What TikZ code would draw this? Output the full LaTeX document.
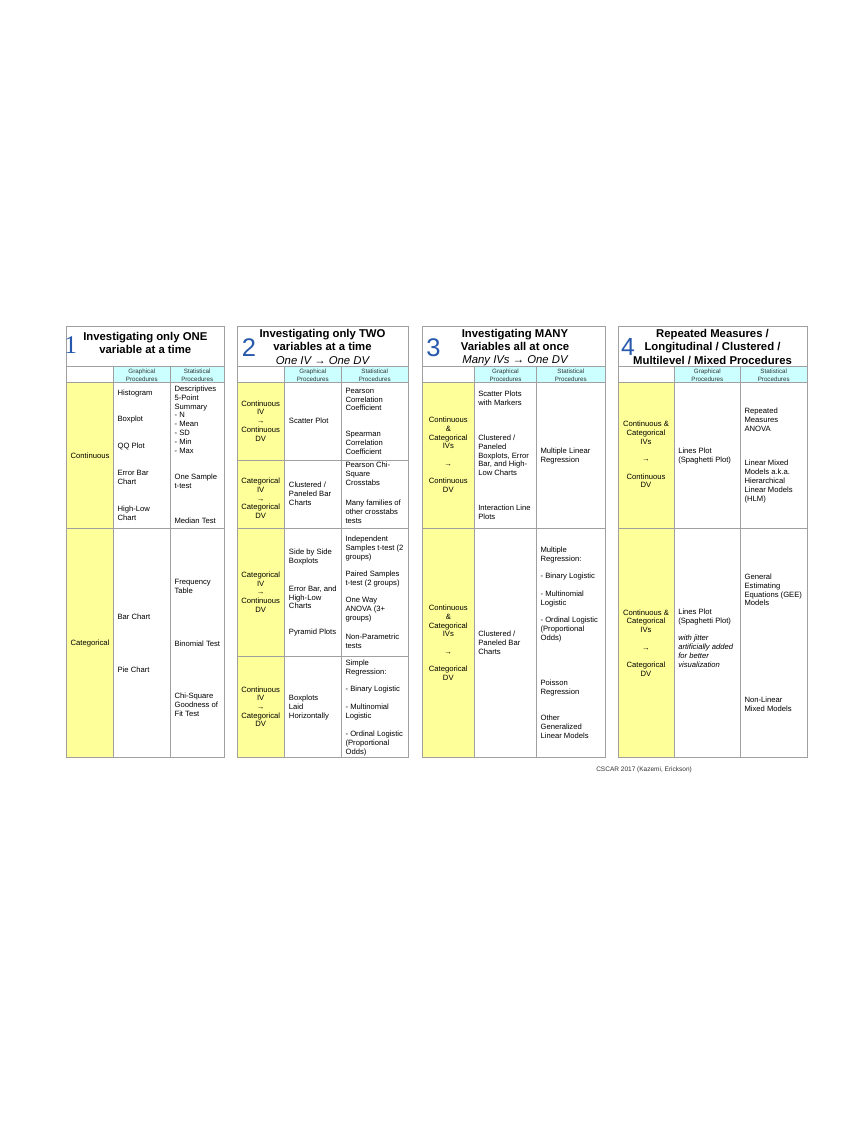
\documentclass[tikz,border=0pt]{standalone}
\usepackage{fontspec}
\setmainfont{Liberation Sans}
\newfontfamily\serifnum{Liberation Serif}
\newfontfamily\sansnum{Liberation Sans}
\newcommand{\myarr}{{\bfseries →}}
\definecolor{yel}{HTML}{FFFF99}
\definecolor{cya}{HTML}{CCFFFF}
\definecolor{numblue}{RGB}{38,88,172}
\definecolor{gridc}{HTML}{A0A0A0}
\tikzset{
  grid/.style={draw=gridc, line width=0.7pt},
  body/.style={font=\fontsize{5.4}{6.3}\selectfont, inner sep=0pt, align=left, anchor=west},
  bodyc/.style={font=\fontsize{5.4}{6.15}\selectfont, inner sep=0pt, align=center},
  hdr/.style={font=\fontsize{4.4}{5.9}\selectfont, inner sep=0pt, align=center, text=black!80},
  ttl/.style={font=\bfseries\fontsize{8}{9.4}\selectfont, inner sep=0pt, align=center},
  digit/.style={font=\fontsize{18}{18}\selectfont\sansnum, text=numblue, inner sep=0pt},
  foot/.style={font=\fontsize{4.6}{5.5}\selectfont, inner sep=0pt, anchor=west, text=black!80},
}
\newcommand{\mypanel}[4]{%
  \fill[yel] (#1,382) rectangle (#2,757.7);
  \fill[cya] (#2,366.7) rectangle (#4,382);
  \draw[grid] (#1,326) rectangle (#4,757.7);
  \draw[grid] (#1,366.7) -- (#4,366.7);
  \draw[grid] (#1,382) -- (#4,382);
  \draw[grid] (#2,366.7) -- (#2,757.7);
  \draw[grid] (#3,366.7) -- (#3,757.7);
  \draw[grid] (#1,528) -- (#4,528);
}
\begin{document}
\begin{tikzpicture}[x=0.70588pt,y=-0.70588pt]
\useasboundingbox (0,0) rectangle (867,1122);
\fill[white] (0,0) rectangle (867,1122);

% ---------- Panel 1 ----------
\mypanel{66.7}{113.3}{170.3}{224}
\node[ttl] (p1t) at (145.3,343) {Investigating only ONE\\variable at a time};
\node[digit, font=\fontsize{18}{18}\selectfont\serifnum] (p1n) at (70.7,344.7) {1};
\node[hdr] (p1g) at (141.8,375) {Graphical\\Procedures};
\node[hdr] (p1s) at (197.2,375) {Statistical\\Procedures};
\node[bodyc] (p1a) at (90,455.7) {Continuous};
\node[bodyc] (p1b) at (90,643.3) {Categorical};
\node[body] (p1c1) at (117.3,393.3) {Histogram};
\node[body] (p1c2) at (117.3,419.3) {Boxplot};
\node[body] (p1c3) at (117.3,446.7) {QQ Plot};
\node[body] (p1c4) at (117.3,477.7) {Error Bar\\Chart};
\node[body] (p1c5) at (117.3,513) {High-Low\\Chart};
\node[body] (p1d1) at (174.3,419.7) {Descriptives\\5-Point\\Summary\\- N\\- Mean\\- SD\\- Min\\- Max};
\node[body] (p1d2) at (174.3,481.3) {One Sample\\t-test};
\node[body] (p1d3) at (174.3,521) {Median Test};
\node[body] (p1e1) at (117.3,616.7) {Bar Chart};
\node[body] (p1e2) at (117.3,670) {Pie Chart};
\node[body] (p1f1) at (174.3,586.2) {Frequency\\Table};
\node[body] (p1f2) at (174.3,643.3) {Binomial Test};
\node[body] (p1f3) at (174.3,705) {Chi-Square\\Goodness of\\Fit Test};

% ---------- Panel 2 ----------
\mypanel{237}{284.3}{341.3}{408}
\draw[grid] (237,460) -- (408,460);
\draw[grid] (237,656) -- (408,656);
\node[ttl] (p2t) at (322.5,346.7) {Investigating only TWO\\variables at a time\\{\mdseries\itshape One IV → One DV}};
\node[digit] (p2n) at (249,347.8) {2};
\node[hdr] (p2g) at (312.8,375) {Graphical\\Procedures};
\node[hdr] (p2s) at (374.7,375) {Statistical\\Procedures};
\node[bodyc] (p2a1) at (260.7,420.8) {Continuous\\IV\\\myarr\\Continuous\\DV};
\node[bodyc] (p2a2) at (260.7,498.3) {Categorical\\IV\\\myarr\\Categorical\\DV};
\node[bodyc] (p2a3) at (260.7,592) {Categorical\\IV\\\myarr\\Continuous\\DV};
\node[bodyc] (p2a4) at (260.7,706.7) {Continuous\\IV\\\myarr\\Categorical\\DV};
\node[body] (p2b1) at (288.7,421) {Scatter Plot};
\node[body] (p2b2) at (288.7,494.1) {Clustered /\\Paneled Bar\\Charts};
\node[body] (p2b3) at (288.7,556.8) {Side by Side\\Boxplots};
\node[body] (p2b4) at (288.7,597.3) {Error Bar, and\\High-Low\\Charts};
\node[body] (p2b5) at (288.7,632.3) {Pyramid Plots};
\node[body] (p2b6) at (288.7,707.3) {Boxplots\\Laid\\Horizontally};
\node[body] (p2c1) at (345.3,399.4) {Pearson\\Correlation\\Coefficient};
\node[body] (p2c2) at (345.3,443.1) {Spearman\\Correlation\\Coefficient};
\node[body] (p2c3) at (345.3,474.1) {Pearson Chi-\\Square\\Crosstabs};
\node[body] (p2c4) at (345.3,512) {Many families of\\other crosstabs\\tests};
\node[body] (p2c5) at (345.3,548.3) {Independent\\Samples t-test (2\\groups)};
\node[body] (p2c6) at (345.3,579.3) {Paired Samples\\t-test (2 groups)};
\node[body] (p2c7) at (345.3,610) {One Way\\ANOVA (3+\\groups)};
\node[body] (p2c8) at (345.3,641.7) {Non-Parametric\\tests};
\node[body] (p2c9) at (345.3,668) {Simple\\Regression:};
\node[body] (p2c10) at (345.3,689.3) {- Binary Logistic};
\node[body] (p2c11) at (345.3,711.8) {- Multinomial\\Logistic};
\node[body] (p2c12) at (345.3,743.1) {- Ordinal Logistic\\(Proportional\\Odds)};

% ---------- Panel 3 ----------
\mypanel{422}{474.7}{536.3}{605.3}
\node[ttl] (p3t) at (515,347.7) {Investigating MANY\\Variables all at once\\{\mdseries\itshape Many IVs → One DV}};
\node[digit] (p3n) at (433.5,347.7) {3};
\node[hdr] (p3g) at (505.5,375) {Graphical\\Procedures};
\node[hdr] (p3s) at (570.8,375) {Statistical\\Procedures};
\node[bodyc] (p3a1) at (448.3,454.8) {Continuous\\\&\\Categorical\\IVs\\[6.15pt]\myarr\\[6.15pt]Continuous\\DV};
\node[bodyc] (p3a2) at (448.3,642.8) {Continuous\\\&\\Categorical\\IVs\\[6.15pt]\myarr\\[6.15pt]Categorical\\DV};
\node[body] (p3b1) at (478,397.8) {Scatter Plots\\with Markers};
\node[body] (p3b2) at (478,455.3) {Clustered /\\Paneled\\Boxplots, Error\\Bar, and High-\\Low Charts};
\node[body] (p3b3) at (478,512.7) {Interaction Line\\Plots};
\node[body] (p3b4) at (478,643.1) {Clustered /\\Paneled Bar\\Charts};
\node[body] (p3c1) at (540.3,456) {Multiple Linear\\Regression};
\node[body] (p3c2) at (540.3,555) {Multiple\\Regression:};
\node[body] (p3c3) at (540.3,576.7) {- Binary Logistic};
\node[body] (p3c4) at (540.3,598.7) {- Multinomial\\Logistic};
\node[body] (p3c5) at (540.3,629.9) {- Ordinal Logistic\\(Proportional\\Odds)};
\node[body] (p3c6) at (540.3,687.8) {Poisson\\Regression};
\node[body] (p3c7) at (540.3,727.1) {Other\\Generalized\\Linear Models};

% ---------- Panel 4 ----------
\mypanel{618}{674.3}{740.3}{807}
\node[ttl] (p4t) at (712.5,346.7) {Repeated Measures /\\Longitudinal / Clustered /\\Multilevel / Mixed Procedures};
\node[digit, font=\fontsize{17.5}{17.5}\selectfont\sansnum] (p4n) at (628,347) {4};
\node[hdr] (p4g) at (707.3,375) {Graphical\\Procedures};
\node[hdr] (p4s) at (773.7,375) {Statistical\\Procedures};
\node[bodyc] (p4a1) at (646,454.7) {Continuous \&\\Categorical\\IVs\\[6.15pt]\myarr\\[6.15pt]Continuous\\DV};
\node[bodyc] (p4a2) at (646,642.9) {Continuous \&\\Categorical\\IVs\\[6.15pt]\myarr\\[6.15pt]Categorical\\DV};
\node[body] (p4b1) at (678,456) {Lines Plot\\(Spaghetti Plot)};
\node[body] (p4b2) at (678,616.7) {Lines Plot\\(Spaghetti Plot)};
\node[body, font=\itshape\fontsize{5.4}{6.2}\selectfont] (p4b3) at (678,651.3) {with jitter\\artificially added\\for better\\visualization};
\node[body] (p4c1) at (744.3,419.9) {Repeated\\Measures\\ANOVA};
\node[body] (p4c2) at (744.3,481.7) {Linear Mixed\\Models a.k.a.\\Hierarchical\\Linear Models\\(HLM)};
\node[body] (p4c3) at (744.3,589.8) {General\\Estimating\\Equations (GEE)\\Models};
\node[body] (p4c4) at (744.3,704.5) {Non-Linear\\Mixed Models};

\node[foot] (cred) at (596,770) {CSCAR 2017 (Kazemi, Erickson)};
\end{tikzpicture}
\end{document}
